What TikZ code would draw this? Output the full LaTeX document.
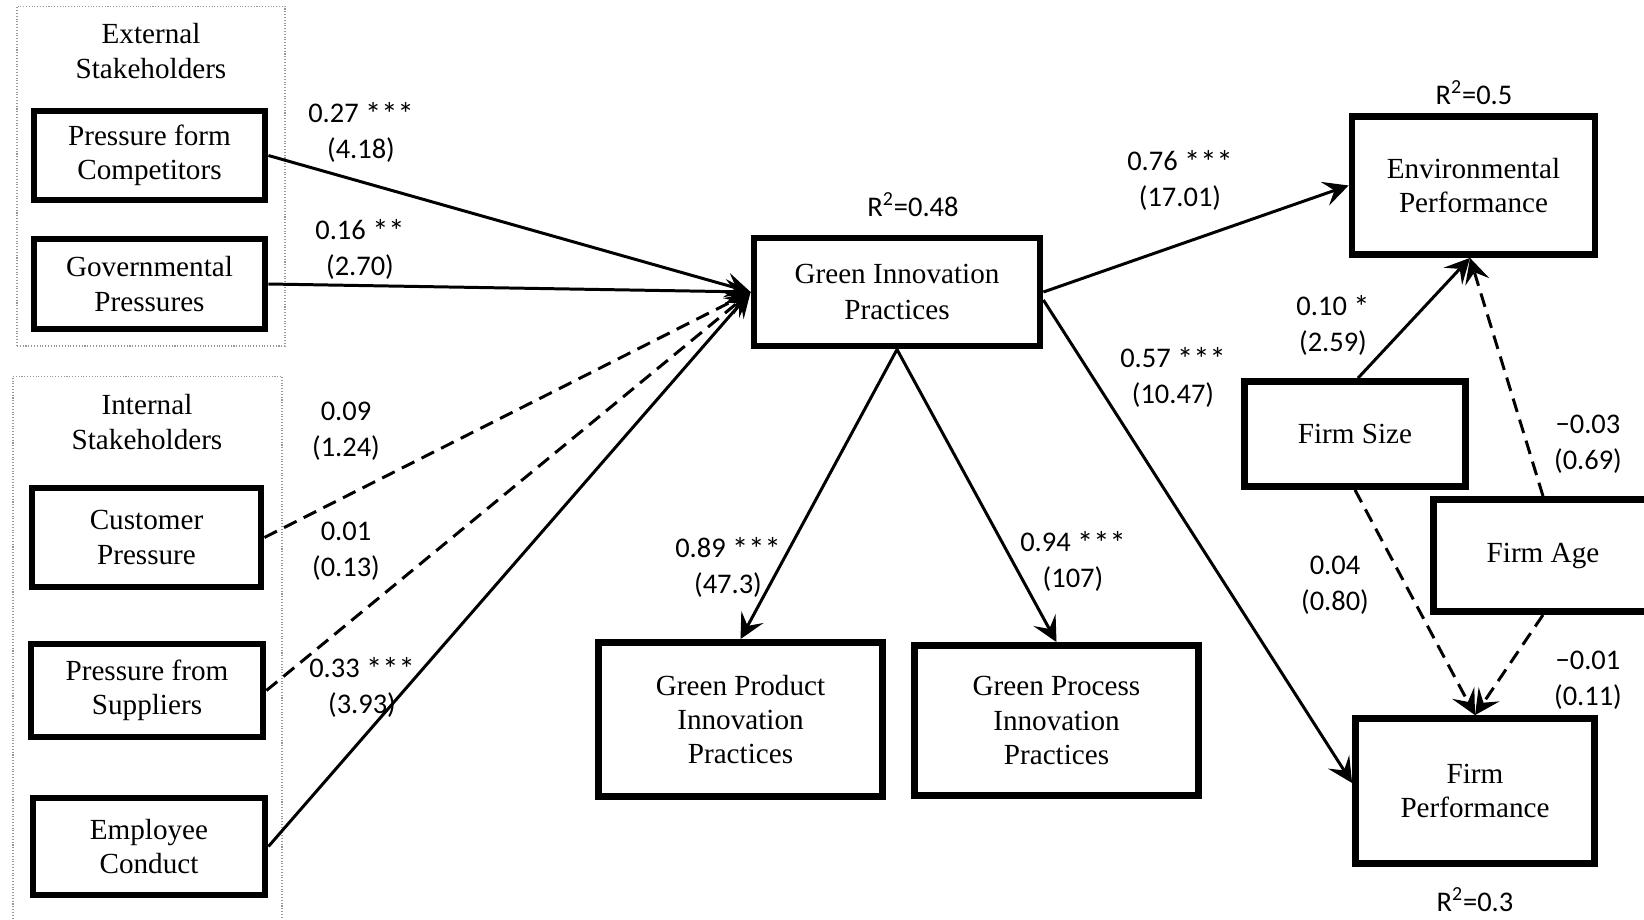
\documentclass[tikz,border=0pt]{standalone}
\usepackage{fontspec}
\setmainfont{Liberation Serif}
\newfontfamily\coeffont{Carlito}
\usetikzlibrary{arrows.meta}
\newcommand\sigstars[1]{\raisebox{-0.2ex}{\fontsize{18.5}{18.5}\selectfont #1}}

\begin{document}
\begin{tikzpicture}[x=0.02cm, y=-0.02cm, >={Stealth[length=0.5cm, width=0.5cm, inset=0.2cm]},
        box/.style={rectangle, draw, line width=3.9pt, align=center, inner sep=0pt, font=\fontsize{16.6}{19.5}\selectfont},
        grp/.style={rectangle, draw=gray!80, densely dotted, line width=0.6pt, inner sep=0pt},
        grptitle/.style={align=center, inner sep=0pt, font=\fontsize{16.6}{19.5}\selectfont},
        coef/.style={align=center, inner sep=0pt, font=\coeffont\fontsize{16.2}{20.3}\selectfont},
        link/.style={->, line width=1.7pt},
        nslink/.style={link, dash pattern=on 0.28cm off 0.16cm}]

        \useasboundingbox (0,0) rectangle (1644,920);

        % stakeholder groups
        \node (extgrp) [grp, minimum width=5.36cm, minimum height=6.8cm] at (151,176) {};
        \node (intgrp) [grp, minimum width=5.38cm, minimum height=11.08cm] at (147.5,653) {};
        \node (exttitle) [grptitle] at (151,51) {External\\Stakeholders};
        \node (inttitle) [grptitle] at (147,422) {Internal\\Stakeholders};

        \node (comp) [box, minimum width=4.62cm, minimum height=1.78cm] at (149.5,155.5) {Pressure form\\Competitors};
        \node (gov) [box, minimum width=4.62cm, minimum height=1.8cm] at (149.5,284) {Governmental\\Pressures};
        \node (cust) [box, minimum width=4.58cm, minimum height=1.98cm] at (146.5,537.5) {Customer\\Pressure};
        \node (supp) [box, minimum width=4.64cm, minimum height=1.86cm] at (147,690.5) {Pressure from\\Suppliers};
        \node (empl) [box, minimum width=4.64cm, minimum height=1.94cm] at (149,846.5) {Employee\\Conduct};

        % mediator and outcomes
        \node (gip) [box, minimum width=5.72cm, minimum height=2.16cm, font=\fontsize{16.6}{21}\selectfont] at (897,292) {Green Innovation\\Practices};
        \node (gprod) [box, minimum width=5.68cm, minimum height=3.08cm] at (740.5,719.5) {Green Product\\Innovation\\Practices};
        \node (gproc) [box, minimum width=5.68cm, minimum height=3.0cm] at (1056.5,720.5) {Green Process\\Innovation\\Practices};
        \node (env) [box, minimum width=4.86cm, minimum height=2.76cm] at (1473.5,185.5) {Environmental\\Performance};
        \node (fsize) [box, minimum width=4.42cm, minimum height=2.1cm] at (1355,434) {Firm Size};
        \node (fage) [box, minimum width=4.38cm, minimum height=2.24cm] at (1543,555.5) {Firm Age};
        \node (fperf) [box, minimum width=4.78cm, minimum height=2.9cm] at (1475,791) {Firm\\Performance};

        \node (r48) [coef] at (913,205) {R\textsuperscript{2}=0.48};
        \node (r5) [coef] at (1474,93) {R\textsuperscript{2}=0.5};
        \node (r3) [coef] at (1475,900) {R\textsuperscript{2}=0.3};

        % paths
        \draw[link] (comp.east) -- (gip.west);
        \draw[link] (gov.east) -- (gip.west);
        \draw[nslink] (cust.east) -- (gip.west);
        \draw[nslink] (supp.east) -- (gip.west);
        \draw[link] (empl.east) -- (gip.west);
        \draw[link] (gip.east) -- (env.west);
        \draw[link] ([yshift=-0.16cm]gip.east) -- ([yshift=0.16cm]fperf.west);
        \draw[link] (gip.south) -- (gprod.north);
        \draw[link] (gip.south) -- (gproc.north);
        \draw[link] ([xshift=0.06cm]fsize.north) -- ([xshift=-0.07cm]env.south);
        \draw[nslink] (fage.north) -- ([xshift=-0.07cm]env.south);
        \draw[nslink] (fsize.south) -- (fperf.north);
        \draw[nslink] (fage.south) -- (fperf.north);

        % coefficients
        \node (c27) [coef] at (361,132) {0.27 \sigstars{***}\\(4.18)};
        \node (c16) [coef] at (360,249) {0.16 \sigstars{**}\\(2.70)};
        \node (c09) [coef] at (346,431) {0.09\\(1.24)};
        \node (c01) [coef] at (346,551) {0.01\\(0.13)};
        \node (c33) [coef] at (362,687) {0.33 \sigstars{***}\\(3.93)};
        \node (c76) [coef] at (1180,180) {0.76 \sigstars{***}\\(17.01)};
        \node (c57) [coef] at (1173,377) {0.57 \sigstars{***}\\(10.47)};
        \node (c89) [coef] at (728,567) {0.89 \sigstars{***}\\(47.3)};
        \node (c94) [coef] at (1073,561) {0.94 \sigstars{***}\\(107)};
        \node (c10) [coef] at (1333,325) {0.10 \sigstars{*}\\(2.59)};
        \node (cm03) [coef] at (1588,444) {−0.03\\(0.69)};
        \node (c04) [coef] at (1335,585) {0.04\\(0.80)};
        \node (cm01) [coef] at (1588,680) {−0.01\\(0.11)};
\end{tikzpicture}
\end{document}
